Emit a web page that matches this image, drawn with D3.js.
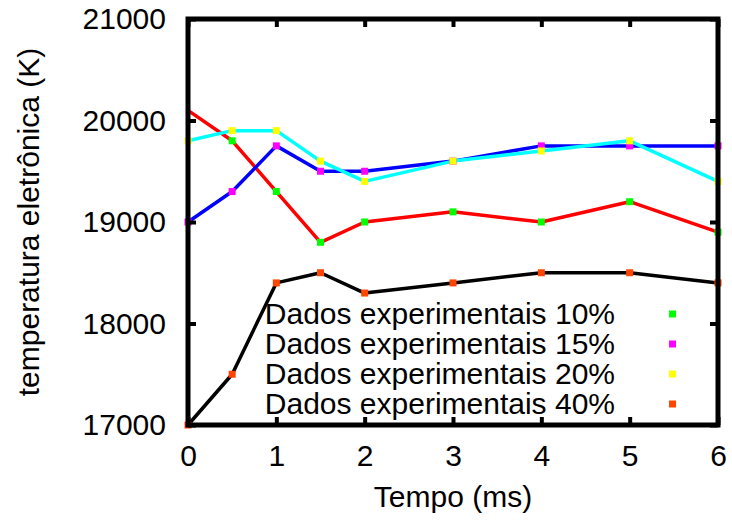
<!DOCTYPE html>
<html>
<head>
<meta charset="utf-8">
<script src="https://cdn.jsdelivr.net/npm/d3@7"></script>
<style>
  body { margin: 0; background: #fff; }
  svg { font-family: "Liberation Sans", Arial, sans-serif; }
</style>
</head>
<body>
<svg id="chart"></svg>
<script>

// tempo (ms)
var tempo = [0, 0.5, 1, 1.5, 2, 3, 4, 5, 6];

// temperatura eletronica (K) per mixture
var dados10 = [20100, 19800, 19300, 18800, 19000, 19100, 19000, 19200, 18900];
var dados15 = [19000, 19300, 19750, 19500, 19500, 19600, 19750, 19750, 19750];
var dados20 = [19800, 19900, 19900, 19600, 19400, 19600, 19700, 19800, 19400];
var dados40 = [17000, 17500, 18400, 18500, 18300, 18400, 18500, 18500, 18400];

// the 10% marker at t=0 is not shown in the original
var marcas10 = [null, 19800, 19300, 18800, 19000, 19100, 19000, 19200, 18900];

var legendLabels = ["Dados experimentais 10%", "Dados experimentais 15%",
                    "Dados experimentais 20%", "Dados experimentais 40%"];
var xTicks = [0, 1, 2, 3, 4, 5, 6];
var yTicks = [17000, 18000, 19000, 20000, 21000];

var lineColors = ["#ff0000", "#0000ff", "#00ffff", "#000000"];
var markColors = ["#00ff00", "#ff00ff", "#ffff00", "#ff4500"];

var series = [dados10, dados15, dados20, dados40];
var marks = [marcas10, dados15, dados20, dados40];

var margin = {top: 19, right: 14, bottom: 95, left: 188};
var width = 732, height = 520;
var w = width - margin.left - margin.right,
    h = height - margin.top - margin.bottom;
var fs = "30px";

var svg = d3.select("#chart")
    .attr("width", width)
    .attr("height", height);

var g = svg.append("g")
    .attr("transform", "translate(" + margin.left + "," + margin.top + ")");

var x = d3.scaleLinear().domain([0, 6]).range([0, w]);
var y = d3.scaleLinear().domain([17000, 21000]).range([h, 0]);

// series lines, black first so the colours sit on top
var order = [3, 0, 1, 2];
var line = d3.line()
    .x(function(d, i) { return x(tempo[i]); })
    .y(function(d) { return y(d); });

order.forEach(function(k) {
  g.append("path")
    .datum(series[k])
    .attr("fill", "none")
    .attr("stroke", lineColors[k])
    .attr("stroke-width", 3.5)
    .attr("stroke-linejoin", "round")
    .attr("d", line);
});

// markers
order.forEach(function(k) {
  var pts = marks[k].map(function(v, i) { return {t: tempo[i], v: v}; })
    .filter(function(d) { return d.v != null; });
  g.selectAll(null)
    .data(pts)
    .enter()
    .append("rect")
    .attr("x", function(d) { return x(d.t) - 3.5; })
    .attr("y", function(d) { return y(d.v) - 3.5; })
    .attr("width", 7)
    .attr("height", 7)
    .attr("fill", markColors[k]);
});

// axes with inward ticks, mirrored
var tick = 8;
g.append("g")
  .attr("transform", "translate(0," + h + ")")
  .call(d3.axisBottom(x).tickValues(xTicks).tickSize(-tick).tickPadding(20).tickFormat(d3.format("d")))
  .call(styleAxis);
g.append("g")
  .call(d3.axisTop(x).tickValues(xTicks).tickSize(-tick).tickFormat(""))
  .call(styleAxis);
g.append("g")
  .call(d3.axisLeft(y).tickValues(yTicks).tickSize(-tick).tickPadding(22).tickFormat(d3.format("d")))
  .call(styleAxis);
g.append("g")
  .attr("transform", "translate(" + w + ",0)")
  .call(d3.axisRight(y).tickValues(yTicks).tickSize(-tick).tickFormat(""))
  .call(styleAxis);

function styleAxis(sel) {
  sel.select(".domain").remove();
  sel.selectAll(".tick line").attr("stroke", "#000").attr("stroke-width", 4);
  sel.selectAll(".tick text").attr("fill", "#000").style("font-size", fs);
}

// frame
g.append("rect")
  .attr("width", w)
  .attr("height", h)
  .attr("fill", "none")
  .attr("stroke", "#000")
  .attr("stroke-width", 5);

// legend
var leg = g.selectAll(".leg")
  .data(legendLabels)
  .enter()
  .append("g")
  .attr("transform", function(d, i) { return "translate(0," + (295 + i * 30) + ")"; });

leg.append("text")
  .attr("x", 427)
  .attr("y", 10)
  .attr("text-anchor", "end")
  .style("font-size", fs)
  .text(function(d) { return d; });

leg.append("rect")
  .attr("x", 481)
  .attr("y", -3.5)
  .attr("width", 7)
  .attr("height", 7)
  .attr("fill", function(d, i) { return markColors[i]; });

// axis titles
svg.append("text")
  .attr("x", margin.left + w / 2)
  .attr("y", 507)
  .attr("text-anchor", "middle")
  .style("font-size", fs)
  .text("Tempo (ms)");

svg.append("text")
  .attr("transform", "translate(39," + (margin.top + h / 2) + ") rotate(-90)")
  .attr("text-anchor", "middle")
  .style("font-size", fs)
  .text("temperatura eletrônica (K)");

</script>
</body>
</html>
